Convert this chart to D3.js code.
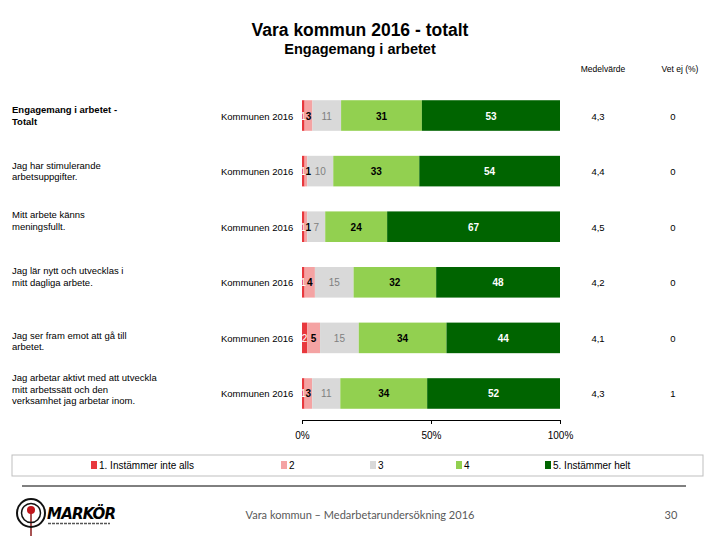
<!DOCTYPE html>
<html><head><meta charset="utf-8">
<script src="https://cdn.jsdelivr.net/npm/d3@7"></script>
<style>body{margin:0;background:#fff}svg{display:block;font-family:"Liberation Sans",Arial,sans-serif}</style>
</head><body><svg id="c" width="720" height="540"></svg>
<script>
const questions = [
  ["Engagemang i arbetet  -", "Totalt"],
  ["Jag har stimulerande", "arbetsuppgifter."],
  ["Mitt arbete känns", "meningsfullt."],
  ["Jag lär nytt och utvecklas i", "mitt dagliga arbete."],
  ["Jag ser fram emot att gå till", "arbetet."],
  ["Jag arbetar aktivt med att utveckla", "mitt arbetssätt och den", "verksamhet jag arbetar inom."]
];
const groupLabel = "Kommunen 2016";
const answers = ["1. Instämmer inte alls", "2", "3", "4", "5. Instämmer helt"];
const s1 = [1, 1, 1, 1, 2, 1];
const s2 = [3, 1, 1, 4, 5, 3];
const s3 = [11, 10, 7, 15, 15, 11];
const s4 = [31, 33, 24, 32, 34, 34];
const s5 = [53, 54, 67, 48, 44, 52];
const means = ["4,3", "4,4", "4,5", "4,2", "4,1", "4,3"];
const vetEj = [0, 0, 0, 0, 0, 1];
const ticks = [0, 50, 100];
const tickLabels = ["0%", "50%", "100%"];

const colors = ["#e8383d", "#f4a3a3", "#d9d9d9", "#92d050", "#006400"];
const textFill = ["#ffffff", "#000000", "#808080", "#000000", "#ffffff"];
const textWeight = ["normal", "bold", "normal", "bold", "bold"];

const svg = d3.select("#c");
const series = [s1, s2, s3, s4, s5];
const rows = questions.map((q, i) => ({ q, vals: series.map(s => s[i]), mean: means[i], vet: vetEj[i] }));

const x = d3.scaleLinear().domain([0, 100]).range([302, 560]);
const y = d3.scaleBand().domain(d3.range(rows.length)).range([88, 421]).paddingInner(0.45).paddingOuter(0.22);

// titles
svg.append("text").attr("x", 360).attr("y", 36).attr("text-anchor", "middle")
  .attr("font-size", 17.5).attr("font-weight", "bold").text("Vara kommun 2016 - totalt");
svg.append("text").attr("x", 360).attr("y", 54).attr("text-anchor", "middle")
  .attr("font-size", 14.5).attr("font-weight", "bold").text("Engagemang i arbetet");

svg.append("text").attr("x", 603).attr("y", 72).attr("text-anchor", "middle").attr("font-size", 8.5).text("Medelvärde");
svg.append("text").attr("x", 680).attr("y", 72).attr("text-anchor", "middle").attr("font-size", 8.5).text("Vet ej (%)");

const offsets = [0, 0, -6, -6, 3, -4];
rows.forEach((r, i) => {
  const cy = y(i) + y.bandwidth() / 2;
  const g = svg.append("g");
  const total = d3.sum(r.vals);
  const nl = r.q.length;
  const t = g.append("text").attr("x", 12).attr("font-size", 9.5).attr("font-weight", i === 0 ? "bold" : "normal");
  r.q.forEach((line, k) => {
    t.append("tspan").attr("x", 12).attr("y", cy + offsets[i] + (k - (nl - 1) / 2) * 11.5 + 3.5).text(line);
  });
  g.append("text").attr("x", 221).attr("y", cy + 4).attr("font-size", 9.5).text(groupLabel);
  // stacked, normalised to 100 %
  let cum = 0;
  const segs = r.vals.map((v, j) => {
    const s = { v, j, x0: x(cum * 100 / total), x1: x((cum + v) * 100 / total) };
    cum += v;
    return s;
  });
  segs.forEach(s => {
    g.append("rect").attr("x", s.x0).attr("y", y(i)).attr("width", Math.max(0, s.x1 - s.x0)).attr("height", y.bandwidth()).attr("fill", colors[s.j]);
  });
  segs.forEach(s => {
    let cx = (s.x0 + s.x1) / 2;
    if (s.j === 1 && s.v <= 1) cx = s.x1 + 1;
    g.append("text").attr("x", cx).attr("y", cy + 4).attr("text-anchor", "middle")
      .attr("font-size", 10).attr("font-weight", textWeight[s.j]).attr("fill", textFill[s.j]).text(s.v);
  });
  g.append("text").attr("x", 598).attr("y", cy + 4).attr("text-anchor", "middle").attr("font-size", 9.5).text(r.mean);
  g.append("text").attr("x", 673).attr("y", cy + 4).attr("text-anchor", "middle").attr("font-size", 9.5).text(r.vet);
});

// axis
const axis = d3.axisBottom(x).tickValues(ticks).tickFormat((d, i) => tickLabels[i]).tickSize(4).tickSizeOuter(0);
const ag = svg.append("g").attr("transform", "translate(0,420)").call(axis);
ag.select(".domain").attr("stroke", "#000");
ag.selectAll("text").attr("font-size", 10).attr("font-family", "Liberation Sans, Arial, sans-serif").attr("dy", "1.2em").attr("fill", "#000");

// legend
svg.append("rect").attr("x", 12).attr("y", 455).attr("width", 691).attr("height", 21).attr("fill", "none").attr("stroke", "#bfbfbf");
const legX = [91, 281, 370, 456, 545];
answers.forEach((a, j) => {
  svg.append("rect").attr("x", legX[j]).attr("y", 461).attr("width", 6).attr("height", 8).attr("fill", colors[j]);
  svg.append("text").attr("x", legX[j] + 8).attr("y", 469).attr("font-size", 10).text(a);
});

// footer
svg.append("line").attr("x1", 22).attr("x2", 686).attr("y1", 486).attr("y2", 486).attr("stroke", "#000").attr("stroke-width", 1);
svg.append("text").attr("x", 360).attr("y", 519).attr("text-anchor", "middle").attr("font-size", 11)
  .attr("font-family", "Lato, sans-serif").attr("fill", "#595959").text("Vara kommun – Medarbetarundersökning 2016");
svg.append("text").attr("x", 671).attr("y", 519).attr("text-anchor", "middle").attr("font-size", 11)
  .attr("font-family", "Lato, sans-serif").attr("fill", "#595959").text("30");

// logo
const lg = svg.append("g");
lg.append("line").attr("x1", 31).attr("x2", 31).attr("y1", 512).attr("y2", 536).attr("stroke", "#8b1a1a").attr("stroke-width", 1.5);
lg.append("circle").attr("cx", 31).attr("cy", 513).attr("r", 14).attr("fill", "none").attr("stroke", "#111").attr("stroke-width", 2);
lg.append("circle").attr("cx", 31).attr("cy", 513).attr("r", 9.5).attr("fill", "none").attr("stroke", "#111").attr("stroke-width", 1.5);
lg.append("circle").attr("cx", 31).attr("cy", 510).attr("r", 4).attr("fill", "#c0161c");
lg.append("text").attr("x", 47).attr("y", 519).attr("font-size", 15).attr("font-weight", "900").attr("font-style", "italic")
  .attr("font-family", "DejaVu Sans, sans-serif").attr("letter-spacing", -0.8).text("MARKÖR");
lg.append("line").attr("x1", 48).attr("x2", 110).attr("y1", 523.5).attr("y2", 523.5).attr("stroke", "#555").attr("stroke-width", 1.5).attr("stroke-dasharray", "3 1");
</script></body></html>
